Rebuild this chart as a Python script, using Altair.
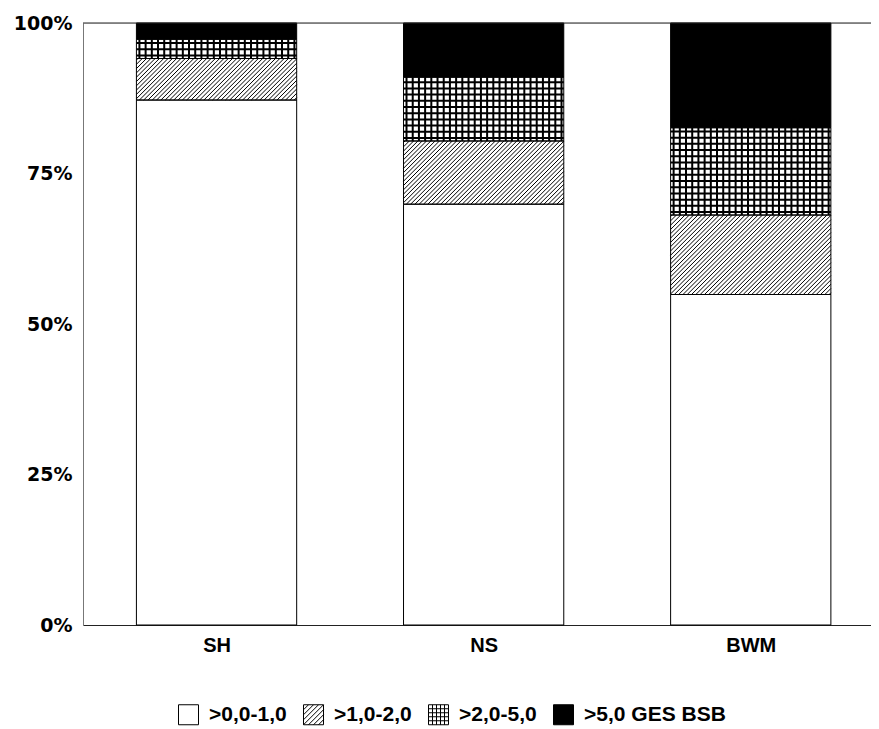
import altair as alt
import pandas as pd

# ---- data ----
groups = ["SH", "NS", "BWM"]
classes = [">0,0-1,0", ">1,0-2,0", ">2,0-5,0", ">5,0 GES BSB"]
share_0_1 = [87.2, 69.9, 54.9]
share_1_2 = [6.9, 10.5, 13.2]
share_2_5 = [3.2, 10.6, 14.5]
share_5_plus = [2.7, 9.0, 17.4]

# ---- layout constants ----
W, H = 788, 602
PX_X = 267.1
X_MAX = W / PX_X
PX_Y = H / 100.0
B0, B1 = 0.2, 0.8
HATCH_STEP = 4.3
GRID_STEP = 6.2

series = [share_0_1, share_1_2, share_2_5, share_5_plus]
rows = []
for gi, g in enumerate(groups):
    cum = 0.0
    for ci, c in enumerate(classes):
        v = series[ci][gi]
        rows.append(dict(group=g, gi=gi, cls=c, ci=ci, value=v,
                         lo=cum, hi=cum + v, x0=gi + B0, x1=gi + B1,
                         hide=-50.0))
        cum += v
bars = pd.DataFrame(rows)


def frange(start, stop, step):
    out, v = [], start
    while v < stop:
        out.append(v)
        v += step
    return out


diag, grid = [], []
for r in rows:
    w = (B1 - B0) * PX_X
    h = (r["hi"] - r["lo"]) * PX_Y
    if r["ci"] == 1:
        for c in frange(-h + 1.5, w, HATCH_STEP):
            ya, yb = max(0.0, -c), min(h, w - c)
            if yb - ya > 0.3:
                diag.append(dict(x=r["x0"] + (ya + c) / PX_X, x2=r["x0"] + (yb + c) / PX_X,
                                 y=r["lo"] + ya / PX_Y, y2=r["lo"] + yb / PX_Y))
    if r["ci"] == 2:
        for xv in frange(3.0, w - 1, GRID_STEP):
            grid.append(dict(x=r["x0"] + xv / PX_X, x2=r["x0"] + xv / PX_X, y=r["lo"], y2=r["hi"]))
        for yv in frange(3.0, h - 1, GRID_STEP):
            grid.append(dict(x=r["x0"], x2=r["x1"], y=r["lo"] + yv / PX_Y, y2=r["lo"] + yv / PX_Y))
diag = pd.DataFrame(diag)
grid = pd.DataFrame(grid)
frame = pd.DataFrame([dict(x=0.0, x2=X_MAX, y=100.0)])

xscale = alt.Scale(domain=[0, X_MAX], nice=False, zero=False)
yscale = alt.Scale(domain=[0, 100], nice=False)

label_expr = "[" + ",".join("'%s'" % g for g in groups) + "][round(datum.value - 0.5)]"
xaxis = alt.Axis(values=[0.5, 1.5, 2.5], labelExpr=label_expr, ticks=False, grid=False,
                 title=None, domainColor="#222", labelFont="Liberation Sans",
                 labelFontSize=20, labelFontWeight="bold", labelColor="black",
                 labelPadding=10, labelFlush=False)
yaxis = alt.Axis(values=[0, 25, 50, 75, 100], labelExpr="datum.value + '%'", ticks=False,
                 grid=False, title=None, domainColor="#777", labelFont="DejaVu Sans",
                 labelFontSize=19, labelFontWeight="bold", labelColor="black",
                 labelPadding=11, labelFlush=False)

fill_scale = alt.Scale(domain=classes, range=["white", "white", "white", "black"])

sq = "M-1,-1H1V1H-1Z"
hatch_path = sq + ("M-1,-0.5L-0.5,-1M-1,0L0,-1M-1,0.5L0.5,-1M-1,1L1,-1"
                   "M-0.5,1L1,-0.5M0,1L1,0M0.5,1L1,0.5")
grid_path = sq + ("M-0.6,-1V1M-0.2,-1V1M0.2,-1V1M0.6,-1V1"
                  "M-1,-0.6H1M-1,-0.2H1M-1,0.2H1M-1,0.6H1")
shape_scale = alt.Scale(domain=classes, range=[sq, hatch_path, grid_path, sq])

legend = alt.Legend(orient="none", legendX=95, legendY=681, direction="horizontal",
                    title=None, symbolSize=400, symbolStrokeWidth=1, symbolOpacity=1,
                    labelFont="Liberation Sans", labelFontSize=21, labelFontWeight="bold",
                    labelColor="black", labelOffset=10, columnPadding=14, padding=0,
                    labelLimit=300)

base = alt.Chart(bars)

seg = base.mark_rect(strokeWidth=0).encode(
    x=alt.X("x0:Q", scale=xscale, axis=xaxis),
    x2="x1:Q",
    y=alt.Y("lo:Q", scale=yscale, axis=yaxis),
    y2="hi:Q",
    fill=alt.condition("datum.ci == 3", alt.value("black"), alt.value("white")),
)

hatch = alt.Chart(diag).mark_rule(color="black", strokeWidth=1).encode(
    x=alt.X("x:Q", scale=xscale), x2="x2:Q", y=alt.Y("y:Q", scale=yscale), y2="y2:Q")

gridl = alt.Chart(grid).mark_rule(color="black", strokeWidth=2).encode(
    x=alt.X("x:Q", scale=xscale), x2="x2:Q", y=alt.Y("y:Q", scale=yscale), y2="y2:Q")

outline = base.mark_rect(fillOpacity=0, stroke="black", strokeWidth=1).encode(
    x=alt.X("x0:Q", scale=xscale), x2="x1:Q", y=alt.Y("lo:Q", scale=yscale), y2="hi:Q")

topline = alt.Chart(frame).mark_rule(color="#222", strokeWidth=1).encode(
    x=alt.X("x:Q", scale=xscale), x2="x2:Q", y=alt.Y("y:Q", scale=yscale))

leg = base.mark_point(filled=True, clip=True).encode(
    x=alt.X("x0:Q", scale=xscale),
    y=alt.Y("hide:Q", scale=yscale),
    fill=alt.Fill("cls:N", scale=fill_scale, legend=legend),
    shape=alt.Shape("cls:N", scale=shape_scale, legend=legend),
    stroke=alt.value("black"),
    strokeWidth=alt.value(1),
)

chart = alt.layer(seg, hatch, gridl, outline, topline, leg).properties(
    width=W, height=H,
    padding={"left": 75, "top": 15, "right": 0, "bottom": 104},
    autosize=alt.AutoSizeParams(type="none"),
).configure_view(strokeWidth=0).configure(background="white")

chart.save("out.html", embed_options={"renderer": "svg", "actions": False})
